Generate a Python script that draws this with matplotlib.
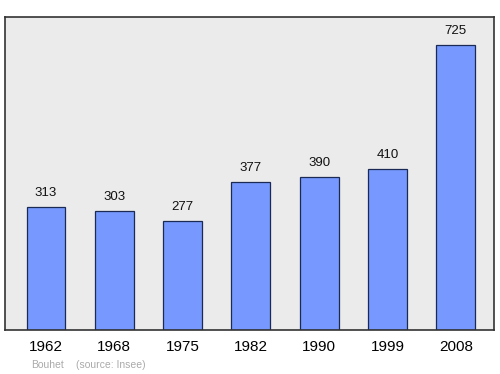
import matplotlib
matplotlib.use("Agg")
import matplotlib.pyplot as plt

years = ["1962", "1968", "1975", "1982", "1990", "1999", "2008"]
population = [313, 303, 277, 377, 390, 410, 725]
commune = "Bouhet"
source = "(source: Insee)"

plt.rcParams['font.family'] = ['Liberation Sans', 'DejaVu Sans']

fig = plt.figure(figsize=(5, 3.74), dpi=100)
# box spans x 5..494, y 17..330 (pixels)
ax = fig.add_axes([5/500, 1-330/374, 489/500, 313/374])
ax.set_facecolor('#ebebeb')
for s in ax.spines.values():
    s.set_color('#333333')
    s.set_linewidth(1.2)

x = list(range(len(years)))
ax.bar(x, population, width=0.57, color='#7799ff', edgecolor='#1a2a55', linewidth=0.9)
for xi, v in zip(x, population):
    ax.text(xi, v + 20, str(v), ha='center', va='bottom', fontsize=9.5, color='#111111')

ax.set_xlim(-0.6, 6.56)
ax.set_ylim(0, 796)
ax.set_yticks([])
ax.set_xticks(x)
ax.set_xticklabels(years, fontsize=11)
ax.tick_params(axis='x', length=0, pad=7.5)

fig.text(31/500, 1-365/374, commune, fontsize=7.5, color='#aaaaaa', va='center')
fig.text(76/500, 1-365/374, source, fontsize=7.5, color='#aaaaaa', va='center')

fig.savefig("out.png", dpi=100)
